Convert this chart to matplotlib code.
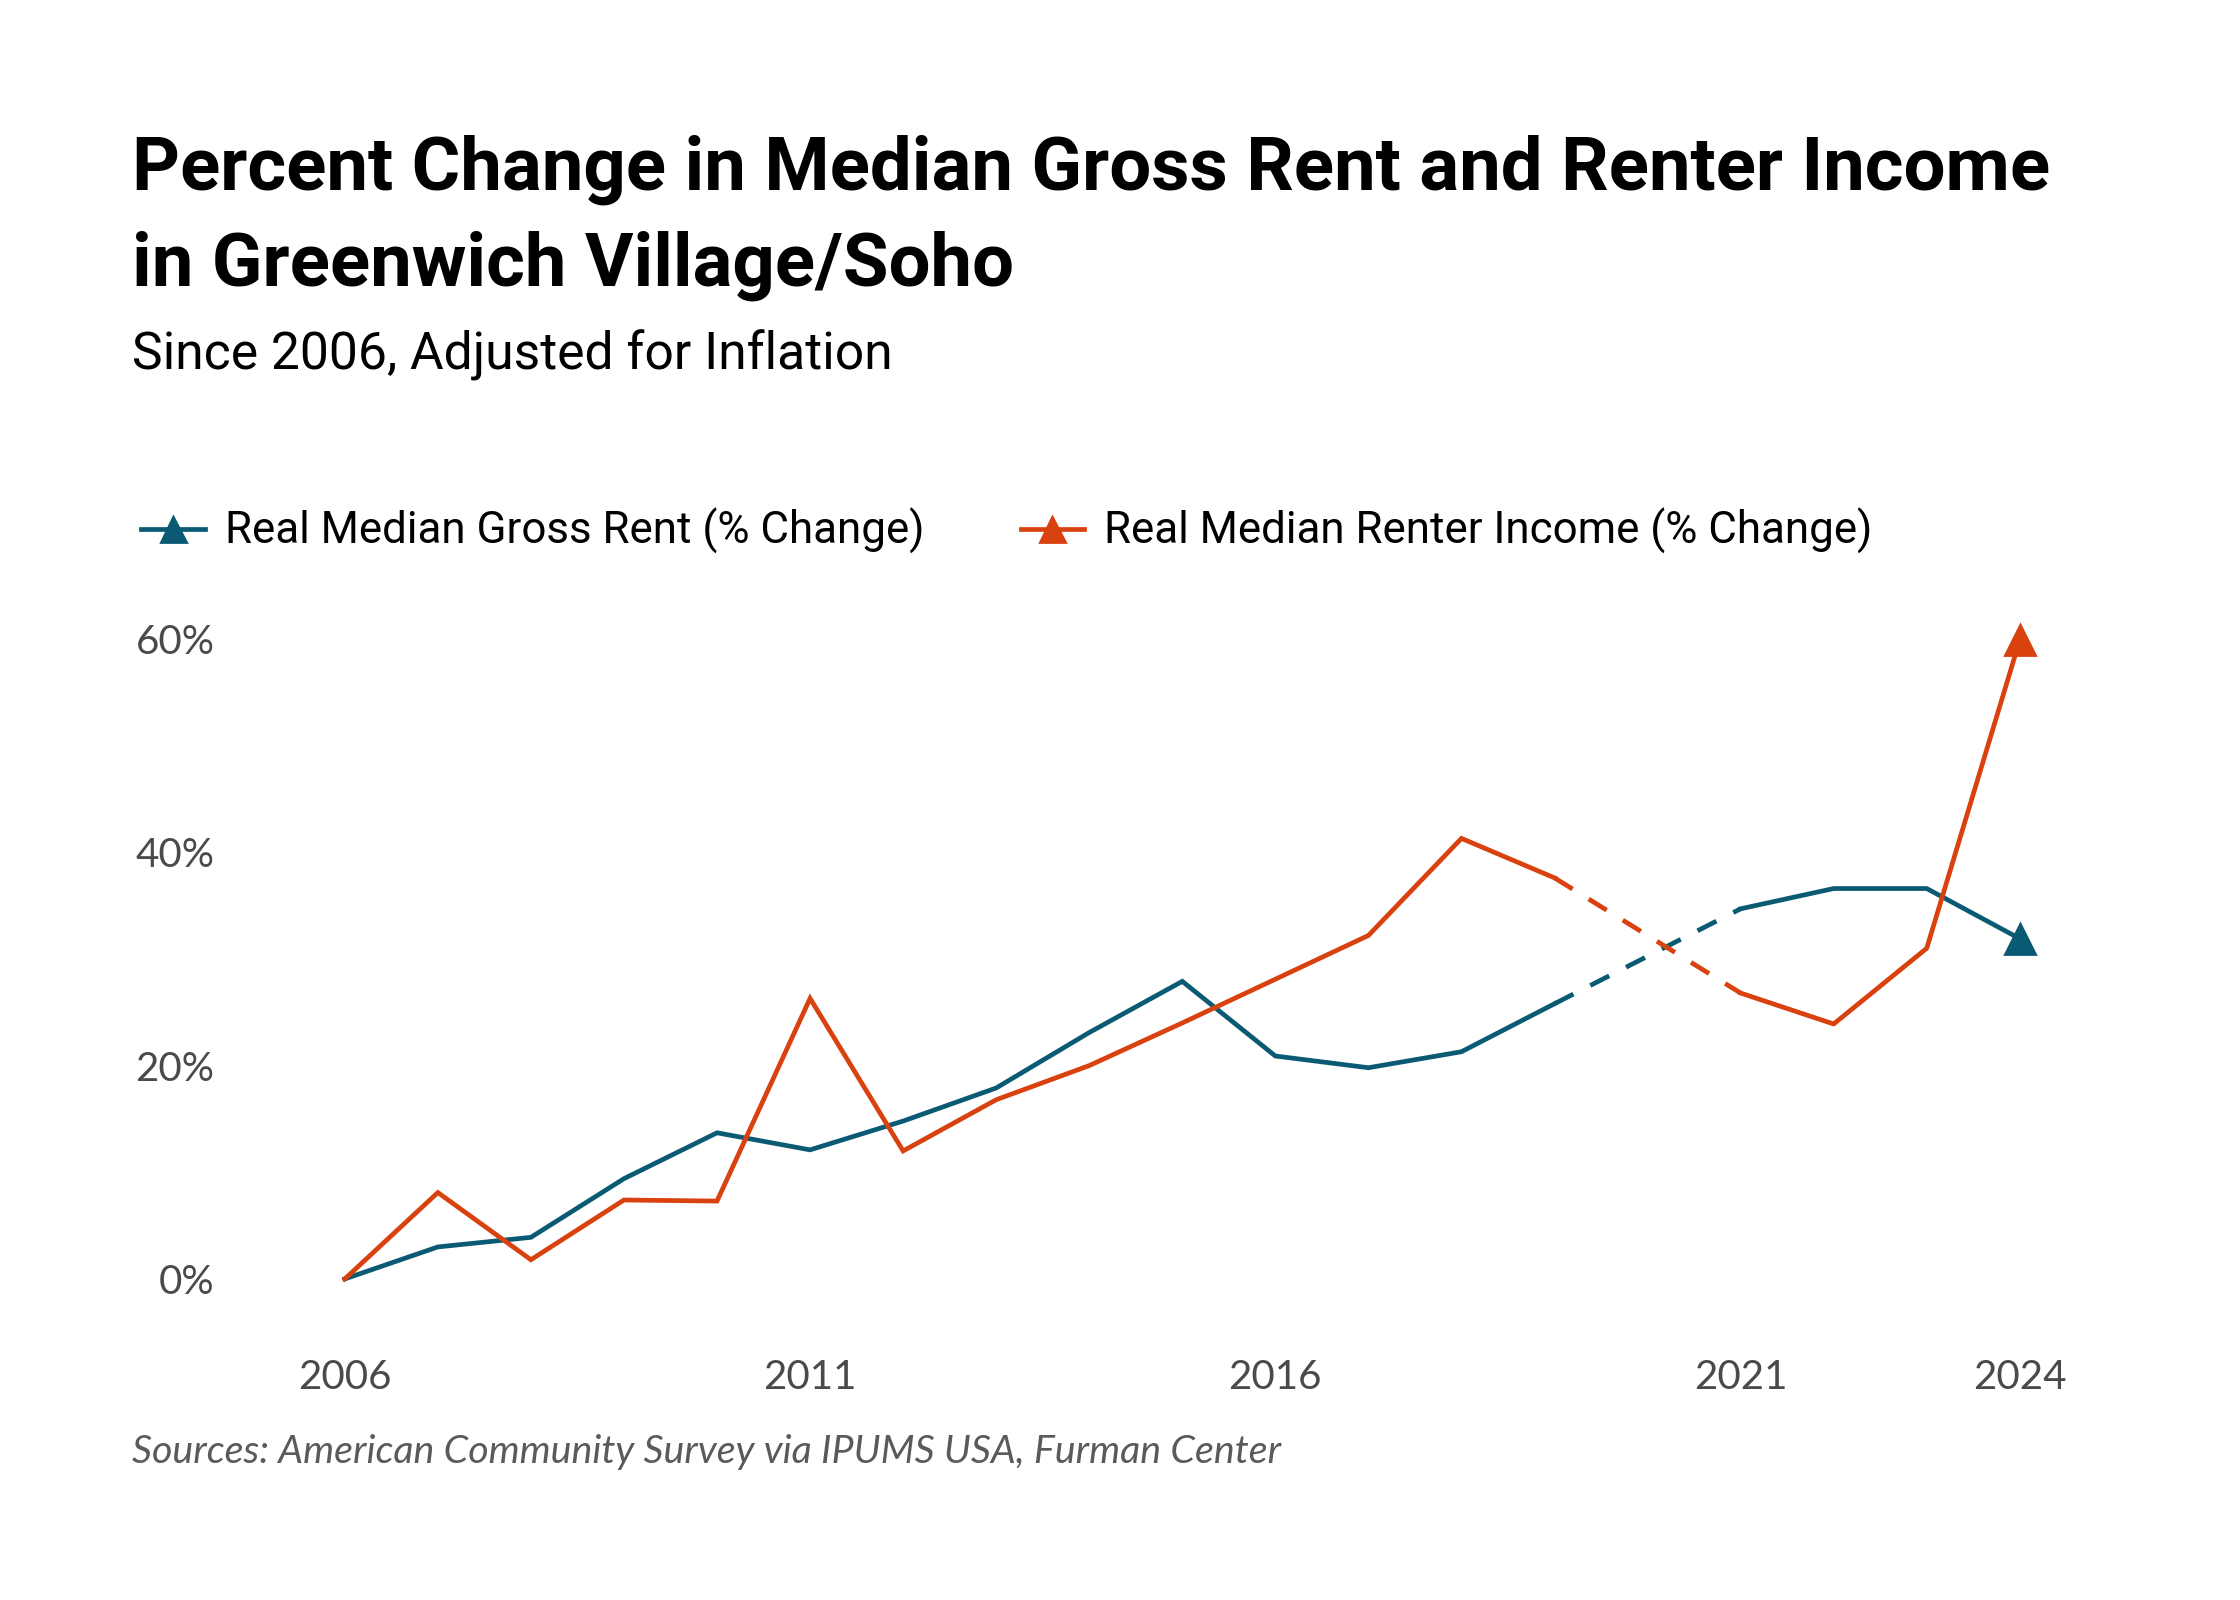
import matplotlib
matplotlib.use("Agg")
import matplotlib.pyplot as plt
from matplotlib.lines import Line2D

# ---- data ----
years_a = [2006, 2007, 2008, 2009, 2010, 2011, 2012, 2013, 2014, 2015, 2016, 2017, 2018, 2019]
years_b = [2021, 2022, 2023, 2024]
rent_a = [0.0, 3.0, 3.9, 9.4, 13.7, 12.1, 14.8, 17.9, 23.1, 27.9, 20.9, 19.8, 21.3, 25.8]
rent_b = [34.7, 36.6, 36.6, 31.9]
income_a = [0.0, 8.1, 1.8, 7.4, 7.3, 26.3, 12.0, 16.8, 20.0, 24.0, 28.1, 32.2, 41.3, 37.6]
income_b = [26.8, 23.9, 31.0, 59.9]
x_ticks = [2006, 2011, 2016, 2021, 2024]
y_ticks = [0, 20, 40, 60]
y_tick_labels = ["0%", "20%", "40%", "60%"]
series_names = ["Real Median Gross Rent (% Change)", "Real Median Renter Income (% Change)"]

BLUE = "#0b5a73"
RED = "#d9410f"
GREY = "#4a4a4a"

fig = plt.figure(figsize=(11.2, 8), dpi=200)
fig.patch.set_facecolor("white")

ax = fig.add_axes([0.102, 0.156, 0.835, 0.478])
ax.set_xlim(2004.75, 2024.85)
ax.set_ylim(-6.7, 65)

lw = 1.7
for ya, va, yb, vb, col in [(years_a, rent_a, years_b, rent_b, BLUE),
                            (years_a, income_a, years_b, income_b, RED)]:
    ax.plot(ya, va, color=col, lw=lw, solid_joinstyle="miter", zorder=3)
    ax.plot([ya[-1], yb[0]], [va[-1], vb[0]], color=col, lw=lw,
            linestyle=(0, (4.5, 4)), zorder=3)
    ax.plot(yb, vb, color=col, lw=lw, zorder=3)
    ax.plot([yb[-1]], [vb[-1]], marker="^", color=col, markersize=11,
            linestyle="none", zorder=4)

for s in ax.spines.values():
    s.set_visible(False)
ax.set_xticks(x_ticks)
ax.set_xticklabels([str(v) for v in x_ticks])
ax.set_yticks(y_ticks)
ax.set_yticklabels(y_tick_labels)
ax.tick_params(axis="both", length=0, labelsize=14.5, labelcolor=GREY)
ax.tick_params(axis="x", pad=3)
ax.tick_params(axis="y", pad=5)
for lab in ax.get_xticklabels() + ax.get_yticklabels():
    lab.set_fontfamily("Lato")

# ---- titles ----
fig.text(0.059, 0.8813, "Percent Change in Median Gross Rent and Renter Income",
         fontsize=26.8, fontweight="bold", family="Roboto", color="black", va="baseline")
fig.text(0.059, 0.8214, "in Greenwich Village/Soho",
         fontsize=26.8, fontweight="bold", family="Roboto", color="black", va="baseline")
fig.text(0.059, 0.7688, "Since 2006, Adjusted for Inflation",
         fontsize=18.6, family="Roboto", color="black", va="baseline")

# ---- legend ----
handles = [Line2D([0], [0], color=BLUE, lw=lw, marker="^", markersize=9),
           Line2D([0], [0], color=RED, lw=lw, marker="^", markersize=9)]
leg = fig.legend(handles, series_names, loc="center left", bbox_to_anchor=(0.063, 0.668),
                 ncol=2, frameon=False, handlelength=1.45, handletextpad=0.45,
                 columnspacing=2.2, prop={"family": "Roboto", "size": 15.8},
                 borderaxespad=0, borderpad=0)

# ---- source ----
fig.text(0.059, 0.0857, "Sources: American Community Survey via IPUMS USA, Furman Center",
         fontsize=14.2, family="Lato", style="italic",
         color="#5a5a5a", va="baseline")

fig.savefig("out.png", dpi=200, facecolor="white")
